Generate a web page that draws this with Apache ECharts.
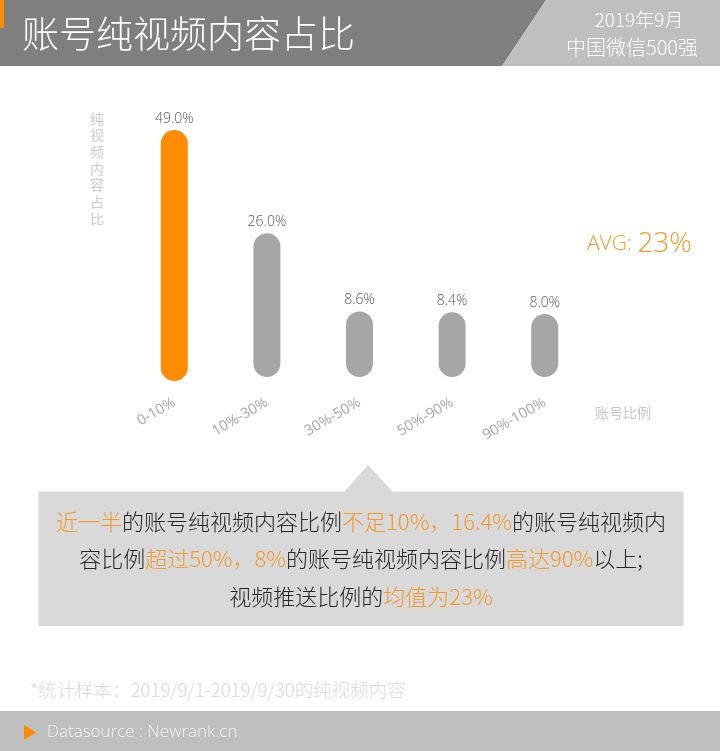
<!DOCTYPE html>
<html>
<head>
<meta charset="utf-8">
<script src="https://cdn.jsdelivr.net/npm/echarts@6/dist/echarts.min.js"></script>
<style>
html,body{margin:0;padding:0;background:#ffffff;}
#chart{width:720px;height:751px;}
</style>
</head>
<body>
<div id="chart"></div>
<script>
// ---- data ----
const categories = ['0-10%', '10%-30%', '30%-50%', '50%-90%', '90%-100%'];
const shares = [49.0, 26.0, 8.6, 8.4, 8.0];
const highlightIndex = 0;
const avgShare = 23;
const titleText = '账号纯视频内容占比';
const headerLines = ['2019年9月', '中国微信500强'];
const yAxisName = '纯视频内容占比';
const xAxisName = '账号比例';
const calloutLines = [
  [['近一半', 1], ['的账号纯视频内容比例', 0], ['不足10%，16.4%', 1], ['的账号纯视频内', 0]],
  [['容比例', 0], ['超过50%，8%', 1], ['的账号纯视频内容比例', 0], ['高达90%', 1], ['以上;', 0]],
  [['视频推送比例的', 0], ['均值为23%', 1]]
];
const footnoteText = '*统计样本：2019/9/1-2019/9/30的纯视频内容';
const sourceText = 'Datasource : Newrank.cn';

// ---- style ----
const FONT = "'Open Sans','Noto Sans CJK SC',sans-serif";
const CJK = "'Noto Sans CJK SC','Open Sans',sans-serif";
const ORANGE = '#ff8c00';
const TEXT_ORANGE = '#f39a2b';
const BAR_GREY = '#a6a6a6';
const BAR_W = 27;

const chart = echarts.init(document.getElementById('chart'), null, {renderer: 'canvas'});

function richLine(parts) {
  return parts.map(p => '{' + (p[1] ? 'o' : 'k') + '|' + p[0] + '}').join('');
}
const calloutY = [522, 559, 597];
const calloutGraphics = calloutLines.map((parts, i) => ({
  type: 'text',
  x: 361,
  y: calloutY[i],
  style: {
    text: richLine(parts),
    align: 'center',
    verticalAlign: 'middle',
    rich: {
      o: {fill: TEXT_ORANGE, fontSize: 22, fontFamily: CJK, fontWeight: 300},
      k: {fill: '#262626', fontSize: 22, fontFamily: CJK, fontWeight: 300}
    }
  }
}));

const option = {
  backgroundColor: '#ffffff',
  animation: false,
  grid: {left: 128, right: 129, top: 139, bottom: 387.5, outerBoundsMode: 'none', containLabel: false},
  xAxis: {
    type: 'category',
    data: categories,
    boundaryGap: true,
    axisLine: {show: false},
    axisTick: {show: false},
    splitLine: {show: false},
    axisLabel: {rotate: 30, margin: 38, color: '#a6a6a6', fontSize: 14.5, fontFamily: FONT, interval: 0},
    name: xAxisName,
    nameLocation: 'end',
    nameGap: 4,
    nameTextStyle: {color: '#c8c8c8', fontSize: 14, fontFamily: CJK, verticalAlign: 'top', padding: [42, 0, 0, 0], align: 'left'}
  },
  yAxis: {
    type: 'value',
    min: 0,
    max: 50,
    show: false,
    splitLine: {show: false}
  },
  series: [{
    type: 'custom',
    data: shares.map((v, i) => [i, v]),
    encode: {x: 0, y: 1},
    renderItem: function (params, api) {
      const idx = api.value(0);
      const val = api.value(1);
      const top = api.coord([idx, val]);
      const base = api.coord([idx, 0]);
      const r = BAR_W / 2;
      const hi = idx === highlightIndex;
      const extra = hi ? 4 : 0;
      return {
        type: 'group',
        children: [{
          type: 'rect',
          shape: {x: top[0] - r, y: top[1] - r, width: BAR_W, height: base[1] - top[1] + 2 * r + extra, r: r},
          style: {fill: hi ? ORANGE : BAR_GREY}
        }, {
          type: 'text',
          style: {
            text: val.toFixed(1) + '%',
            x: top[0],
            y: top[1] - r - 4,
            align: 'center',
            verticalAlign: 'bottom',
            fill: '#595959',
            font: '300 14px ' + FONT
          }
        }]
      };
    }
  }],
  graphic: [
    // header
    {type: 'polygon', shape: {points: [[0, 0], [546, 0], [502, 66], [0, 66]]}, style: {fill: '#7f7f7f'}},
    {type: 'polygon', shape: {points: [[546, 0], [720, 0], [720, 66], [502, 66]]}, style: {fill: '#bfbfbf'}},
    {type: 'rect', shape: {x: 0, y: 0, width: 4, height: 28}, style: {fill: ORANGE}},
    {type: 'text', x: 22, y: 34, style: {text: titleText, fill: '#ffffff', font: '300 37px ' + CJK, verticalAlign: 'middle', align: 'left'}},
    {type: 'text', x: 639, y: 20, style: {text: headerLines[0], fill: '#ffffff', font: '300 19px ' + CJK, verticalAlign: 'middle', align: 'center'}},
    {type: 'text', x: 632, y: 47, style: {text: headerLines[1], fill: '#ffffff', font: '300 20px ' + CJK, verticalAlign: 'middle', align: 'center'}},
    // y axis name (vertical)
    {type: 'text', x: 97, y: 110, style: {text: yAxisName.split('').join('\n'), fill: '#cccccc', font: '14px ' + CJK, lineHeight: 16.7, align: 'center', verticalAlign: 'top'}},
    // average
    {type: 'text', x: 587, y: 244, style: {text: '{a|AVG: }{b|' + avgShare + '%}', verticalAlign: 'middle', align: 'left',
      rich: {a: {fill: TEXT_ORANGE, fontSize: 21, fontFamily: FONT, fontWeight: 300}, b: {fill: TEXT_ORANGE, fontSize: 28, fontFamily: FONT, fontWeight: 300}}}},
    // callout
    {type: 'polygon', shape: {points: [[344, 492], [368, 465], [393, 492]]}, style: {fill: '#d9d9d9'}},
    {type: 'rect', shape: {x: 38.5, y: 491.5, width: 645, height: 134.5}, style: {fill: '#d9d9d9'}},
    ...calloutGraphics,
    // footnote
    {type: 'text', x: 30, y: 690, style: {text: footnoteText, fill: '#d9d9d9', font: '300 18.5px ' + CJK, verticalAlign: 'middle', align: 'left'}},
    // footer
    {type: 'rect', shape: {x: 0, y: 711, width: 720, height: 40}, style: {fill: '#bfbfbf'}},
    {type: 'polygon', shape: {points: [[24, 725], [36, 732.5], [24, 740]]}, style: {fill: ORANGE}},
    {type: 'text', x: 47, y: 732, style: {text: sourceText, fill: '#f2f2f2', font: '300 17px ' + FONT, verticalAlign: 'middle', align: 'left'}}
  ]
};
chart.setOption(option);
</script>
</body>
</html>
